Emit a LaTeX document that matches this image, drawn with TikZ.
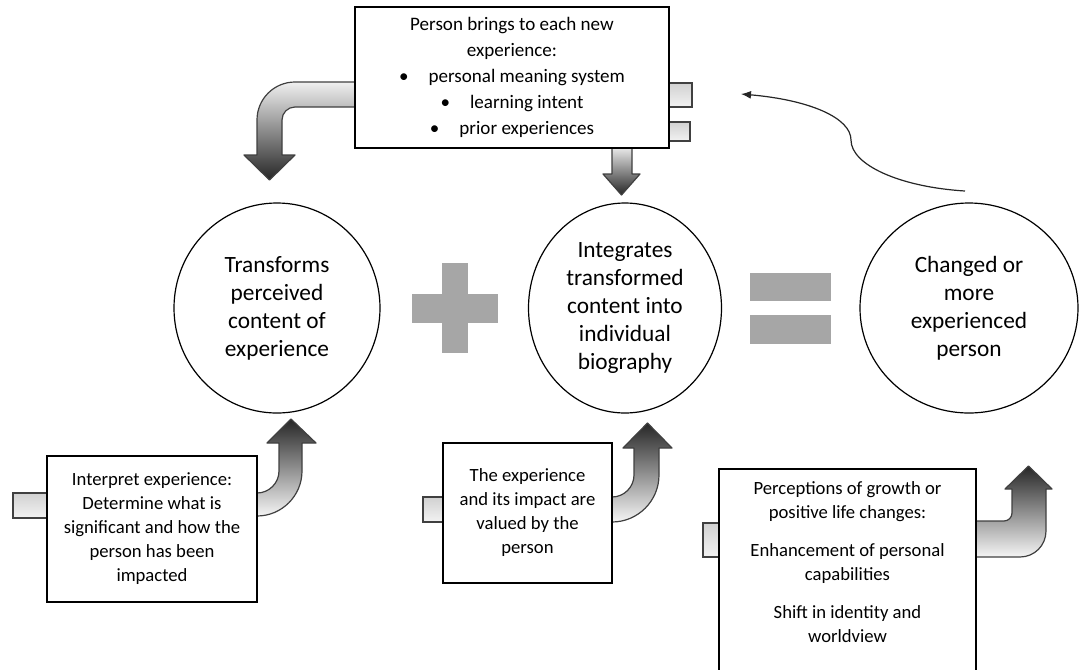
\documentclass[tikz,border=0pt]{standalone}
\usepackage{fontspec}
\setmainfont{Carlito}
\usetikzlibrary{shapes.geometric,arrows.meta}
\definecolor{signgray}{RGB}{166,166,166}
\definecolor{edgegray}{RGB}{64,64,64}
\begin{document}
\begin{tikzpicture}[x=0.75pt,y=-0.75pt,
  bigcircle/.style={ellipse, draw=black, line width=0.9pt, fill=white, inner sep=0pt, align=center, font=\fontsize{17.5}{21}\selectfont},
  textbox/.style={rectangle, draw=black, line width=0.9pt, fill=white, inner sep=0pt, align=center, font=\fontsize{14}{18}\selectfont},
  blockarrow/.style={draw=edgegray, line width=0.9pt, line join=round},
  uparrow/.style={blockarrow, top color=black!85, bottom color=black!4},
  downarrow/.style={blockarrow, top color=black!6, bottom color=black!85},
  stub/.style={draw=edgegray, line width=1.2pt, top color=black!18, bottom color=black!5},
  signbar/.style={fill=signgray, draw=none},
  thinarrow/.style={draw=black!85, line width=0.9pt, -{Latex[length=7.5pt,width=6pt]}}
]
\useasboundingbox (0,0) rectangle (1083,669);
\clip (0,0) rectangle (1083,669);

% stubs
\path[stub] (13,493) rectangle (49,518);
\path[stub] (423,497) rectangle (445,522);
\path[stub] (703,523) rectangle (721,557);
\path[stub] (667,83) rectangle (692,107);
\path[stub] (667,122) rectangle (690,141);

% block arrows
\path[uparrow] (255,493) -- (257,493) .. controls (269.1,493) and (279,483.1) .. (279,471)
  -- (279,443) -- (267,443) -- (291,419) -- (316,443) -- (302,443) -- (302,471)
  .. controls (302,495.8) and (281.8,516) .. (257,516) -- (255,516) -- cycle;
\path[uparrow] (610,497) -- (612,497) .. controls (624.1,497) and (634,487.1) .. (634,475)
  -- (634,448) -- (623,448) -- (647.5,423) -- (672,448) -- (659,448) -- (659,475)
  .. controls (659,500.9) and (637.9,522) .. (612,522) -- (610,522) -- cycle;
\path[uparrow] (974,521) -- (1004,521) .. controls (1008.4,521) and (1012,517.4) .. (1012,513)
  -- (1012,489) -- (1005,489) -- (1028.5,466) -- (1052,489) -- (1046,489) -- (1046,531)
  .. controls (1046,545.4) and (1034.4,557) .. (1020,557) -- (974,557) -- cycle;
\path[downarrow] (357,82) -- (295,82) .. controls (274,82) and (257,99) .. (257,120)
  -- (257,155) -- (244,155) -- (269.5,180) -- (295,155) -- (282,155) -- (282,120)
  .. controls (282,112.8) and (287.8,107) .. (295,107) -- (357,107) -- cycle;
\path[downarrow] (612,146) -- (632,146) -- (632,174) -- (640,174) -- (621.5,195) -- (603,174) -- (612,174) -- cycle;

% boxes
\node[textbox, font=\fontsize{14.3}{19.5}\selectfont, minimum width={314*0.75pt}, minimum height={141*0.75pt}] (top) at (512,77.5)
  {Person brings to each new\\experience:\\\textbullet\hspace{15pt}personal meaning system\\\textbullet\hspace{15pt}learning intent\\\textbullet\hspace{15pt}prior experiences};
\node[textbox, minimum width={210*0.75pt}, minimum height={146*0.75pt}] (b1) at (152,529)
  {Interpret experience:\\Determine what is\\significant and how the\\person has been\\impacted};
\node[textbox, minimum width={169*0.75pt}, minimum height={140*0.75pt}] (b2) at (527.5,513)
  {The experience\\and its impact are\\valued by the\\person};
\node[textbox, minimum width={257*0.75pt}, minimum height={220*0.75pt}] (b3) at (847.5,579) {};
\node[align=center, inner sep=0pt, font=\fontsize{14}{18}\selectfont] (t3) at (847.5,562.5)
  {Perceptions of growth or\\positive life changes:\\[10.5pt]Enhancement of personal\\capabilities\\[10.5pt]Shift in identity and\\worldview};

% circles
\node[bigcircle, minimum width={206*0.75pt}, minimum height={210*0.75pt}] (c1) at (277,308)
  {Transforms\\perceived\\content of\\experience};
\node[bigcircle, minimum width={193*0.75pt}, minimum height={210*0.75pt}] (c2) at (625,308)
  {Integrates\\transformed\\content into\\individual\\biography};
\node[bigcircle, minimum width={218*0.75pt}, minimum height={210*0.75pt}] (c3) at (969,308)
  {Changed or\\more\\experienced\\person};

% plus and equals
\path[signbar] (442,263) rectangle (468,353);
\path[signbar] (412,294) rectangle (498,323);
\path[signbar] (750,273) rectangle (831,301);
\path[signbar] (750,315) rectangle (831,344);

% feedback curve
\coordinate (tail) at (965,191);
\coordinate (tipc) at (741,94);
\draw[thinarrow] (tail) .. controls (900,187) and (851,165) .. (851,140)
  .. controls (851,118) and (810,100) .. (tipc);
\end{tikzpicture}
\end{document}
